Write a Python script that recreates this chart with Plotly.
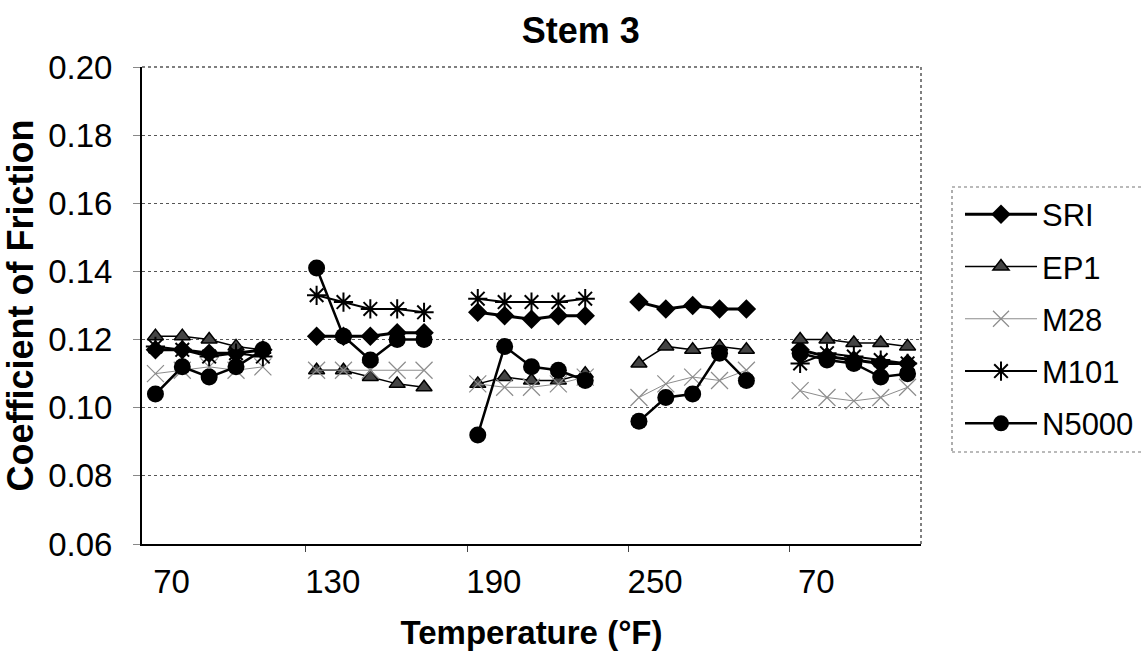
import plotly.graph_objects as go

# ---- data ----
group_labels = ["70", "130", "190", "250", "70"]
SRI = [[0.117, 0.117, 0.116, 0.116, 0.117],
       [0.121, 0.121, 0.121, 0.122, 0.122],
       [0.128, 0.127, 0.126, 0.127, 0.127],
       [0.131, 0.129, 0.130, 0.129, 0.129],
       [0.117, 0.115, 0.114, 0.113, 0.113]]
EP1 = [[0.121, 0.121, 0.120, 0.118, 0.117],
       [0.111, 0.111, 0.109, 0.107, 0.106],
       [0.107, 0.109, 0.108, 0.108, 0.110],
       [0.113, 0.118, 0.117, 0.118, 0.117],
       [0.120, 0.120, 0.119, 0.119, 0.118]]
M28 = [[0.110, 0.111, 0.112, 0.111, 0.112],
       [0.111, 0.111, 0.111, 0.111, 0.111],
       [0.107, 0.106, 0.106, 0.107, 0.109],
       [0.103, 0.107, 0.109, 0.108, 0.111],
       [0.105, 0.103, 0.102, 0.103, 0.106]]
M101 = [[0.118, 0.117, 0.115, 0.116, 0.115],
        [0.133, 0.131, 0.129, 0.129, 0.128],
        [0.132, 0.131, 0.131, 0.131, 0.132],
        [None, None, None, None, None],
        [0.113, 0.116, 0.115, 0.114, 0.113]]
N5000 = [[0.104, 0.112, 0.109, 0.112, 0.117],
         [0.141, 0.121, 0.114, 0.120, 0.120],
         [0.092, 0.118, 0.112, 0.111, 0.108],
         [0.096, 0.103, 0.104, 0.116, 0.108],
         [0.116, 0.114, 0.113, 0.109, 0.110]]

SLOTS = 6  # 5 readings + 1 gap per temperature group


def flatten(series):
    xs, ys = [], []
    for g, vals in enumerate(series):
        for i, v in enumerate(vals):
            xs.append(g * SLOTS + i)
            ys.append(v)
        xs.append(g * SLOTS + len(vals))
        ys.append(None)
    return xs, ys


FONT = "Arial, Liberation Sans, sans-serif"
styles = {
    "SRI": dict(line=dict(color="black", width=3),
                marker=dict(symbol="diamond", size=15, color="black")),
    "EP1": dict(line=dict(color="black", width=1.5),
                marker=dict(symbol="triangle-up", size=14, color="#444444",
                            line=dict(color="black", width=1.5))),
    "M28": dict(line=dict(color="#8c8c8c", width=1),
                marker=dict(symbol="x-thin-open", size=17, color="#8c8c8c",
                            line=dict(color="#8c8c8c", width=1.2))),
    "M101": dict(line=dict(color="black", width=2),
                 marker=dict(symbol="asterisk-open", size=16, color="black",
                             line=dict(color="black", width=2))),
    "N5000": dict(line=dict(color="black", width=2.5),
                  marker=dict(symbol="circle", size=17, color="black")),
}

fig = go.Figure()
for name, series in [("SRI", SRI), ("EP1", EP1), ("M28", M28),
                     ("M101", M101), ("N5000", N5000)]:
    xs, ys = flatten(series)
    fig.add_trace(go.Scatter(x=xs, y=ys, mode="lines+markers", name=name,
                             connectgaps=False, legendgroup=name,
                             **styles[name]))

n_groups = len(group_labels)
L, R, T, B = 142, 921, 67, 544
W, H = 1141, 656
fig.update_layout(
    width=W, height=H,
    margin=dict(l=L, r=W - R, t=T, b=H - B),
    paper_bgcolor="white", plot_bgcolor="white",
    font=dict(family=FONT, color="black", size=30),
    title=dict(text="<b>Stem 3</b>", x=0.509, xanchor="center", y=0.953,
               yanchor="middle", font=dict(size=36, family=FONT)),
    showlegend=True,
    legend=dict(xref="container", yref="container",
                x=960 / W, xanchor="left", y=1 - 319 / H, yanchor="middle",
                font=dict(size=31, family=FONT), itemwidth=72,
                tracegroupgap=9, bgcolor="rgba(0,0,0,0)",
                borderwidth=0),
    xaxis=dict(range=[-0.5, n_groups * SLOTS - 1.5],
               tickmode="array",
               tickvals=[g * SLOTS + 0.6 for g in range(n_groups)],
               ticktext=group_labels,
               ticks="outside", ticklen=7, tickcolor="rgba(0,0,0,0)",
               showgrid=False, zeroline=False,
               showline=True, linecolor="black", linewidth=2,
               minor=dict(tickmode="array",
                          tickvals=[g * SLOTS + 5.6 for g in range(n_groups - 1)],
                          ticks="outside", ticklen=6, tickcolor="#444",
                          tickwidth=1, showgrid=False),
               tickfont=dict(size=33, family=FONT),
               title=dict(text="<b>Temperature (°F)</b>", standoff=22,
                          font=dict(size=33, family=FONT))),
    yaxis=dict(range=[0.06, 0.20], dtick=0.02, tickformat=".2f",
               ticks="outside", ticklen=7, tickcolor="#888",
               ticklabelstandoff=14,
               showgrid=True, gridcolor="#555", griddash="dot", gridwidth=1,
               zeroline=False,
               showline=True, linecolor="black", linewidth=2,
               tickfont=dict(size=33, family=FONT),
               title=dict(text="<b>Coefficient of Friction</b>", standoff=4,
                          font=dict(size=36, family=FONT))),
    shapes=[
        # dotted top / right plot frame
        dict(type="line", xref="paper", yref="paper", x0=0, x1=1, y0=1, y1=1,
             line=dict(color="#555", width=1.5, dash="dot")),
        dict(type="line", xref="paper", yref="paper", x0=1, x1=1, y0=0, y1=1,
             line=dict(color="#555", width=1.5, dash="dot")),
        # dotted legend frame
        dict(type="rect", xref="paper", yref="paper",
             x0=(952 - L) / (R - L), x1=(1160 - L) / (R - L),
             y0=(B - 452) / (B - T), y1=(B - 187) / (B - T),
             line=dict(color="#777", width=1.2, dash="dot")),
    ],
)

fig.write_html("out.html",
               config={"responsive": False, "displayModeBar": False},
               post_script="document.body.style.margin='0';")
